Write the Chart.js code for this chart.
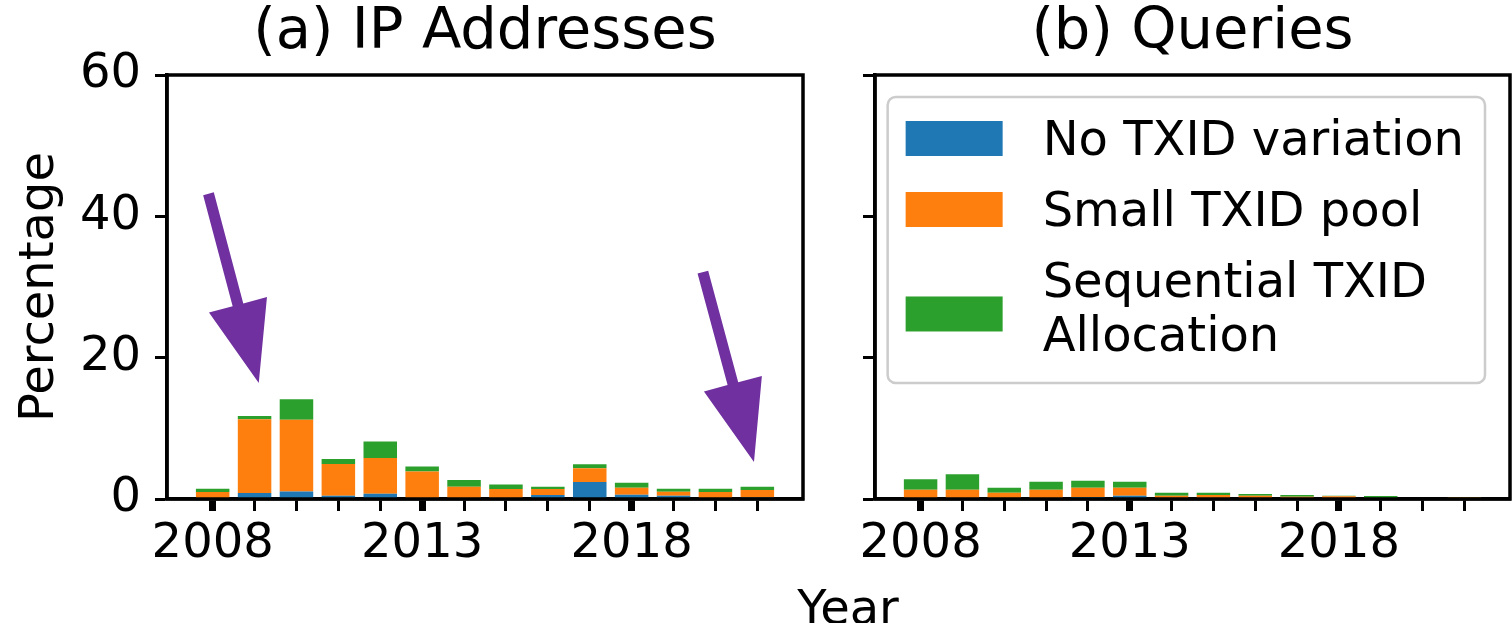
<!DOCTYPE html>
<html>
<head>
<meta charset="utf-8">
<script src="https://cdn.jsdelivr.net/npm/chart.js@4.4.1/dist/chart.umd.min.js"></script>
<style>
  html, body { margin: 0; padding: 0; background: #fff; }
  #wrap { position: relative; width: 1512px; height: 623px; overflow: hidden; background: #fff; }
  #c1 { position: absolute; left: 0; top: 0; }
  #c2 { position: absolute; left: 830px; top: 0; }
  #xlab { position: absolute; left: 848px; top: 583px; transform: translateX(-50%);
          font: 48px 'DejaVu Sans'; line-height: 48px; color: #000; white-space: nowrap; }
</style>
</head>
<body>
<div id="wrap">
  <canvas id="c1" width="830" height="623"></canvas>
  <canvas id="c2" width="682" height="623"></canvas>
  <div id="xlab">Year</div>
</div>
<script>
// Years on the x axis and the ones that carry a label
const years = [2008, 2009, 2010, 2011, 2012, 2013, 2014, 2015, 2016, 2017, 2018, 2019, 2020, 2021];
const labeledYears = [2008, 2013, 2018];

// Series names (legend)
const seriesNames = ['No TXID variation', 'Small TXID pool', 'Sequential TXID\nAllocation'];
const seriesColors = ['#1f77b4', '#ff7f0e', '#2ca02c'];

// (a) IP addresses, percentage per year
const ipNoVariation = [0, 0.85, 1.05, 0.45, 0.75, 0, 0, 0, 0.55, 2.4, 0.6, 0.45, 0.15, 0.2];
const ipSmallPool   = [1.0, 10.45, 10.15, 4.5, 5.05, 3.9, 1.75, 1.4, 0.85, 1.95, 1.0, 0.56, 0.85, 1.07];
const ipSequential  = [0.45, 0.45, 2.9, 0.7, 2.35, 0.7, 0.95, 0.65, 0.35, 0.55, 0.7, 0.43, 0.46, 0.48];

// (b) Queries, percentage per year
const qNoVariation = [0, 0, 0, 0, 0.28, 0.47, 0, 0.04, 0.04, 0.04, 0.04, 0.08, 0.02, 0.02];
const qSmallPool   = [1.3, 1.3, 0.9, 1.3, 1.32, 1.13, 0.47, 0.53, 0.43, 0.29, 0.34, 0.06, 0.03, 0.18];
const qSequential  = [1.5, 2.2, 0.7, 1.15, 1.0, 0.85, 0.43, 0.33, 0.24, 0.24, 0.08, 0.28, 0.1, 0.08];

// Y axis range and tick step
const yMax = 60;
const yStep = 20;

// Call-out arrows on panel (a), in data units: [year, percentage]
const arrowFrom = [[2007.9, 43.2], [2019.7, 32.1]];
const arrowTo   = [[2009.1, 16.4], [2020.92, 5.25]];

Chart.defaults.font.family = "'DejaVu Sans', sans-serif";
Chart.defaults.color = '#000';

const FONT = 48;
const barFrac = 0.8;
const span = years[years.length - 1] - years[0] + barFrac;
const xMin = years[0] - barFrac / 2 - 0.05 * span;
const xMax = years[years.length - 1] + barFrac / 2 + 0.05 * span;

// Frame around the plotting area
const frame = {
  id: 'frame',
  afterDatasetsDraw(chart) {
    const { ctx, chartArea: a } = chart;
    ctx.save();
    ctx.lineWidth = 3.5;
    ctx.strokeStyle = '#000';
    ctx.strokeRect(a.left, a.top, a.right - a.left, a.bottom - a.top);
    ctx.restore();
  }
};

// Filled arrows placed through the chart scales
const arrowMarks = {
  id: 'arrowMarks',
  afterDraw(chart, args, opts) {
    if (!opts.from) return;
    const { ctx } = chart;
    const x = chart.scales.x, y = chart.scales.y;
    ctx.save();
    ctx.fillStyle = opts.color;
    opts.from.forEach((f, i) => {
      const t = opts.to[i];
      const x0 = x.getPixelForValue(f[0]), y0 = y.getPixelForValue(f[1]);
      const x1 = x.getPixelForValue(t[0]), y1 = y.getPixelForValue(t[1]);
      const len = Math.hypot(x1 - x0, y1 - y0);
      const ux = (x1 - x0) / len, uy = (y1 - y0) / len;
      const nx = -uy, ny = ux;
      const bx = x1 - ux * opts.headLength, by = y1 - uy * opts.headLength;
      const hw = opts.shaftWidth / 2, hh = opts.headWidth / 2;
      ctx.beginPath();
      ctx.moveTo(x0 + nx * hw, y0 + ny * hw);
      ctx.lineTo(bx + nx * hw, by + ny * hw);
      ctx.lineTo(bx + nx * hh, by + ny * hh);
      ctx.lineTo(x1, y1);
      ctx.lineTo(bx - nx * hh, by - ny * hh);
      ctx.lineTo(bx - nx * hw, by - ny * hw);
      ctx.lineTo(x0 - nx * hw, y0 - ny * hw);
      ctx.closePath();
      ctx.fill();
    });
    ctx.restore();
  }
};

// Boxed legend in the upper right corner, supports multi-line labels
const boxLegend = {
  id: 'boxLegend',
  afterDraw(chart, args, o) {
    if (!o.show) return;
    const { ctx, chartArea } = chart;
    ctx.save();
    ctx.font = `${FONT}px 'DejaVu Sans'`;
    const items = chart.data.datasets.map(ds => ({ lines: ds.label.split('\n'), color: ds.backgroundColor }));
    const textW = Math.max(...items.flatMap(it => it.lines.map(l => ctx.measureText(l).width)));
    const w = o.padLeft + o.handleW + o.gap + textW + o.padRight;
    const right = chartArea.right - o.insetX;
    const top = chartArea.top + o.insetY;
    const left = right - w;
    let base = top + o.firstBaseline;
    const rows = [];
    items.forEach(it => {
      rows.push({ it, base });
      base += (it.lines.length - 1) * o.lineH + o.rowStep;
    });
    const last = rows[rows.length - 1];
    const bottom = last.base + (last.it.lines.length - 1) * o.lineH + o.padBottom;
    ctx.beginPath();
    ctx.roundRect(left, top, w, bottom - top, o.radius);
    ctx.fillStyle = 'rgba(255,255,255,0.8)';
    ctx.fill();
    ctx.lineWidth = 2.5;
    ctx.strokeStyle = '#cccccc';
    ctx.stroke();
    ctx.textAlign = 'left';
    ctx.textBaseline = 'alphabetic';
    rows.forEach(({ it, base }) => {
      const cy = base - 16.5 + (it.lines.length - 1) * o.lineH * 0.62;
      ctx.fillStyle = it.color;
      ctx.fillRect(left + o.padLeft, cy - o.handleH / 2, o.handleW, o.handleH);
      ctx.fillStyle = '#000';
      it.lines.forEach((l, k) => ctx.fillText(l, left + o.padLeft + o.handleW + o.gap, base + k * o.lineH));
    });
    ctx.restore();
  }
};

function makePanel(canvasId, title, values, axisWidth, padRight, showYLabels, extra) {
  const datasets = values.map((v, i) => ({
    label: seriesNames[i],
    data: v,
    backgroundColor: seriesColors[i],
    borderWidth: 0,
    barPercentage: barFrac,
    categoryPercentage: 1
  }));
  return new Chart(document.getElementById(canvasId), {
    type: 'bar',
    data: { labels: years, datasets },
    plugins: [frame, arrowMarks, boxLegend],
    options: {
      responsive: false,
      animation: false,
      layout: { padding: { left: 0, right: padRight, top: 0, bottom: 0 } },
      plugins: {
        legend: { display: false },
        tooltip: { enabled: false },
        title: {
          display: true, text: title, fullSize: false,
          font: { size: FONT * 1.2, weight: 'normal', lineHeight: 1 },
          padding: { top: 4, bottom: 13.4 }, color: '#000'
        },
        arrowMarks: extra.arrows || {},
        boxLegend: extra.legend || {}
      },
      scales: {
        x: {
          type: 'linear', stacked: true, offset: false,
          min: xMin, max: xMax,
          afterBuildTicks: s => { s.ticks = years.map(v => ({ value: v })); },
          afterFit: s => { s.height = 124; },
          ticks: {
            autoSkip: false, maxRotation: 0, minRotation: 0,
            font: { size: FONT }, color: '#000', padding: 5,
            callback: v => labeledYears.includes(v) ? String(v) : ''
          },
          grid: {
            offset: false, drawOnChartArea: false, drawTicks: true,
            tickLength: 12, tickColor: '#000',
            tickWidth: c => (c.tick && labeledYears.includes(c.tick.value)) ? 7 : 3
          },
          border: { display: true, color: '#000', width: 3.5 }
        },
        y: {
          stacked: true, min: 0, max: yMax,
          afterFit: s => { s.width = axisWidth; },
          ticks: { stepSize: yStep, display: showYLabels, font: { size: FONT }, color: '#000', padding: 14 },
          grid: { drawOnChartArea: false, tickLength: 12, tickWidth: 3, tickColor: '#000' },
          border: { display: true, color: '#000', width: 3.5 },
          title: {
            display: showYLabels, text: 'Percentage', color: '#000',
            font: { size: FONT }, padding: { top: 12, bottom: 0 }
          }
        }
      }
    }
  });
}

makePanel('c1', '(a) IP Addresses', [ipNoVariation, ipSmallPool, ipSequential], 167, 27, true, {
  arrows: { from: arrowFrom, to: arrowTo, color: '#7030a0', shaftWidth: 11, headWidth: 60, headLength: 81 }
});

makePanel('c2', '(b) Queries', [qNoVariation, qSmallPool, qSequential], 45, 2, false, {
  legend: {
    show: true, insetX: 25, insetY: 22, padLeft: 18, handleW: 97, handleH: 35, gap: 40, padRight: 21,
    firstBaseline: 58, rowStep: 71, lineH: 54, padBottom: 32, radius: 8
  }
});
</script>
</body>
</html>
